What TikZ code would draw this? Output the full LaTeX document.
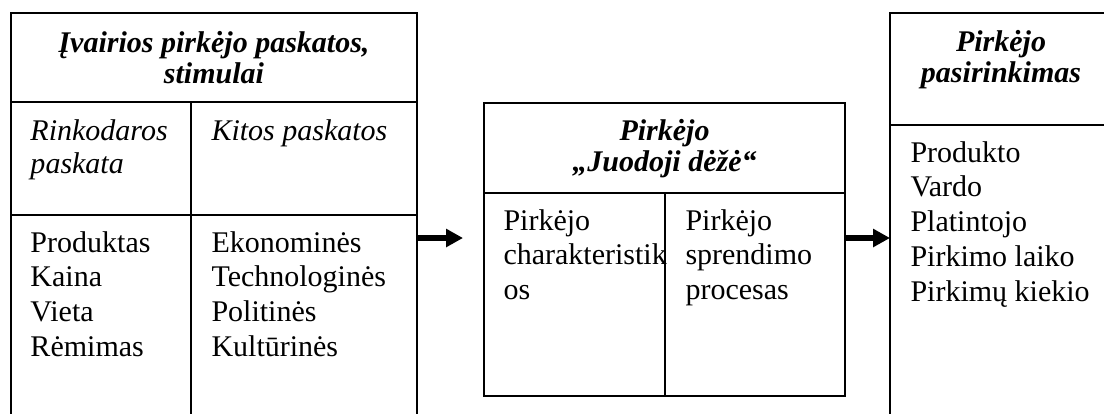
\documentclass[tikz,border=0pt]{standalone}
\usepackage{fontspec}
\setmainfont{Liberation Serif}
\usetikzlibrary{arrows.meta}
\newcommand\cellL[1]{\begin{tabular}[t]{@{}l@{}}#1\end{tabular}}
\newcommand\cellC[1]{\begin{tabular}[t]{@{}c@{}}#1\end{tabular}}
\begin{document}
\begin{tikzpicture}[x=0.4pt,y=-0.4pt,
  boxline/.style={line width=0.8pt},
  head/.style={font=\bfseries\itshape\fontsize{12}{12.4}\selectfont, inner sep=0pt, anchor=base},
  itbody/.style={font=\itshape\fontsize{12}{13.4}\selectfont, inner sep=0pt, anchor=base west},
  body/.style={font=\fontsize{12}{13.9}\selectfont, inner sep=0pt, anchor=base west},
  arr/.style={line width=2.4pt, -{Triangle[length=6.8pt,width=7pt]}}]
\useasboundingbox (0,0) rectangle (1104,413);
\clip (0,0) rectangle (1104,413);
% left box
\draw[boxline] (11,430) -- (11,13) -- (417,13) -- (417,430);
\draw[boxline] (11,102) -- (417,102);
\draw[boxline] (11,215) -- (417,215);
\draw[boxline] (191,102) -- (191,430);
\node[head] (lh) at (214,52) {\cellC{Įvairios pirkėjo paskatos,\\stimulai}};
\node[itbody] (lr) at (30,140) {\cellL{Rinkodaros\\paskata}};
\node[itbody] (lk) at (211,140) {\cellL{Kitos paskatos}};
\node[body] (ll) at (30,252) {\cellL{Produktas\\Kaina\\Vieta\\Rėmimas}};
\node[body] (lo) at (211,252) {\cellL{Ekonominės\\Technologinės\\Politinės\\Kultūrinės}};
% middle box
\draw[boxline] (484,103) rectangle (845,396);
\draw[boxline] (484,193) -- (845,193);
\draw[boxline] (665,193) -- (665,396);
\node[head] (mh) at (664.5,140) {\cellC{Pirkėjo\\„Juodoji dėžė“}};
\node[body] (mc) at (503,230) {\cellL{Pirkėjo\\charakteristik\\os}};
\node[body] (mp) at (685,230) {\cellL{Pirkėjo\\sprendimo\\procesas}};
% right box
\draw[boxline] (890,430) -- (890,13) -- (1110,13);
\draw[boxline] (890,125) -- (1110,125);
\node[head] (rh) at (1001,51) {\cellC{Pirkėjo\\pasirinkimas}};
\node[body] (rl) at (910,162) {\cellL{Produkto\\Vardo\\Platintojo\\Pirkimo laiko\\Pirkimų kiekio}};
% connectors
\coordinate (a1s) at (417,238);
\coordinate (a1e) at (463,238);
\coordinate (a2s) at (845,238);
\coordinate (a2e) at (890,238);
\draw[arr] (a1s) -- (a1e);
\draw[arr] (a2s) -- (a2e);
\end{tikzpicture}
\end{document}
